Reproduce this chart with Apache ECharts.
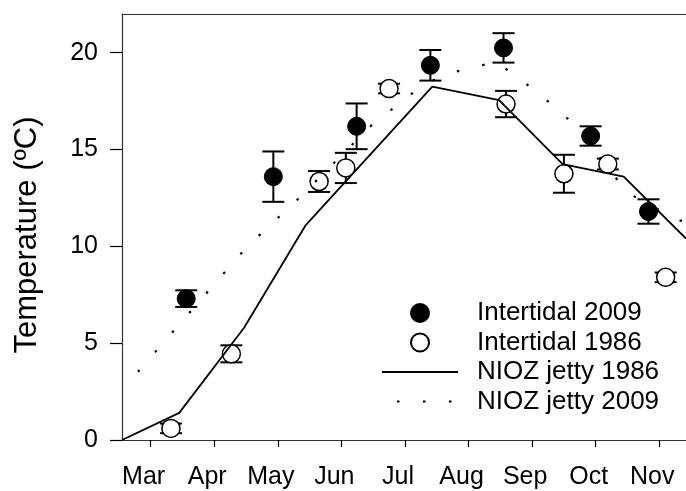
<!DOCTYPE html>
<html>
<head>
<meta charset="utf-8">
<script src="https://cdn.jsdelivr.net/npm/echarts@6/dist/echarts.min.js"></script>
<style>
  html, body { margin: 0; padding: 0; background: #fff; }
  #chart { width: 686px; height: 491px; }
</style>
</head>
<body>
<div id="chart"></div>
<script>
// x values are in months (3 = Mar tick, 4 = Apr tick ...)
const monthTicks = [3, 4, 5, 6, 7, 8, 9, 10, 11];
const monthLabels = ["Mar", "Apr", "May", "Jun", "Jul", "Aug", "Sep", "Oct", "Nov"];
const tempTicks = [0, 5, 10, 15, 20];

// Intertidal 2009 (filled circles)
const inter09X = [3.56, 4.93, 6.24, 7.40, 8.55, 9.92, 10.83];
const inter09Y = [7.3, 13.6, 16.2, 19.35, 20.25, 15.7, 11.8];
const inter09Err = [0.43, 1.3, 1.18, 0.79, 0.76, 0.5, 0.63];

// Intertidal 1986 (open circles)
const inter86X = [3.32, 4.27, 5.65, 6.07, 6.75, 8.59, 9.50, 10.19, 11.10];
const inter86Y = [0.6, 4.45, 13.35, 14.05, 18.15, 17.35, 13.75, 14.25, 8.4];
const inter86Err = [0.25, 0.44, 0.54, 0.78, 0.25, 0.68, 0.98, 0.28, 0.25];

// NIOZ jetty 1986 (solid line)
const jetty86X = [2.55, 3.45, 4.47, 5.44, 7.43, 8.48, 9.48, 10.44, 11.42];
const jetty86Y = [0, 1.4, 5.8, 11.1, 18.25, 17.55, 14.25, 13.6, 10.4];

// NIOZ jetty 2009 (dotted line)
const jetty09X = [2.80, 4.51, 5.31, 6.47, 6.86, 7.25, 7.64, 8.03, 8.43, 8.82, 9.21, 9.58, 10.51, 11.28, 11.42];
const jetty09Y = [3.52, 9.96, 12.42, 16.24, 17.25, 18.25, 18.9, 19.2, 19.53, 18.62, 17.6, 16.53, 12.75, 11.38, 11.25];

const FONT = "'Liberation Sans', Arial, sans-serif";

function pairs(xs, ys, es) {
  return xs.map((x, i) => (es ? [x, ys[i], es[i]] : [x, ys[i]]));
}

function errBar(params, api) {
  const x = api.value(0);
  const y = api.value(1);
  const e = api.value(2);
  const top = api.coord([x, y + e]);
  const bot = api.coord([x, y - e]);
  const hw = 11;
  const st = { stroke: "#000", lineWidth: 2 };
  return {
    type: "group",
    children: [
      { type: "line", shape: { x1: top[0], y1: top[1], x2: bot[0], y2: bot[1] }, style: st },
      { type: "line", shape: { x1: top[0] - hw, y1: top[1], x2: top[0] + hw, y2: top[1] }, style: st },
      { type: "line", shape: { x1: bot[0] - hw, y1: bot[1], x2: bot[0] + hw, y2: bot[1] }, style: st },
    ],
  };
}

const chart = echarts.init(document.getElementById("chart"));
const option = {
  animation: false,
  backgroundColor: "#fff",
  textStyle: { fontFamily: FONT },
  grid: { left: 122, right: 0, top: 14, bottom: 51, containLabel: false },
  legend: {
    orient: "vertical",
    left: 381,
    top: 300,
    padding: 0,
    itemWidth: 76,
    itemHeight: 18,
    itemGap: 3.5,
    textStyle: { fontSize: 26, color: "#000", fontFamily: FONT, padding: [0, 0, 0, 14] },
    data: [
      { name: "Intertidal 2009" },
      { name: "Intertidal 1986" },
      { name: "NIOZ jetty 1986", itemStyle: { opacity: 0 } },
      { name: "NIOZ jetty 2009", itemStyle: { opacity: 0 }, lineStyle: { dashOffset: 11 } },
    ],
  },
  xAxis: [
    {
      type: "value",
      min: 2.55,
      max: 11.42,
      position: "bottom",
      splitLine: { show: false },
      axisLine: { lineStyle: { color: "#333", width: 1.2 } },
      axisTick: { customValues: monthTicks, length: 7, lineStyle: { color: "#000", width: 1.2 } },
      axisLabel: {
        customValues: monthTicks,
        formatter: (v) => monthLabels[monthTicks.indexOf(Math.round(v))],
        fontSize: 25,
        color: "#000",
        margin: 25,
        padding: [0, 14, 0, 0],
        fontFamily: FONT,
      },
    },
    {
      type: "value",
      min: 2.55,
      max: 11.42,
      position: "top",
      splitLine: { show: false },
      axisLine: { lineStyle: { color: "#333", width: 1.2 } },
      axisTick: { show: false },
      axisLabel: { show: false },
    },
  ],
  yAxis: {
    type: "value",
    min: 0,
    max: 22,
    name: "Temperature (ºC)",
    nameLocation: "middle",
    nameGap: 79,
    nameTextStyle: { fontSize: 31, color: "#000", fontFamily: FONT, padding: [0, 16, 0, 0] },
    splitLine: { show: false },
    axisLine: { show: true, lineStyle: { color: "#333", width: 1.2 } },
    axisTick: { customValues: tempTicks, length: 12, lineStyle: { color: "#000", width: 1.2 } },
    axisLabel: { customValues: tempTicks, fontSize: 25, color: "#000", margin: 24, fontFamily: FONT },
  },
  series: [
    {
      type: "custom",
      renderItem: errBar,
      data: pairs(inter09X, inter09Y, inter09Err),
      encode: { x: 0, y: 1 },
      silent: true,
    },
    {
      type: "custom",
      renderItem: errBar,
      data: pairs(inter86X, inter86Y, inter86Err),
      encode: { x: 0, y: 1 },
      silent: true,
    },
    {
      name: "Intertidal 2009",
      type: "scatter",
      symbol: "circle",
      symbolSize: 18,
      itemStyle: { color: "#000", borderColor: "#000", borderWidth: 1, opacity: 1 },
      data: pairs(inter09X, inter09Y),
    },
    {
      name: "Intertidal 1986",
      type: "scatter",
      symbol: "circle",
      symbolSize: 18,
      itemStyle: { color: "#fff", borderColor: "#000", borderWidth: 1.5, opacity: 1 },
      data: pairs(inter86X, inter86Y),
    },
    {
      name: "NIOZ jetty 1986",
      type: "line",
      symbol: "none",
      showSymbol: false,
      color: "#000",
      lineStyle: { color: "#000", width: 1.8 },
      data: pairs(jetty86X, jetty86Y),
    },
    {
      name: "NIOZ jetty 2009",
      type: "line",
      symbol: "none",
      showSymbol: false,
      color: "#000",
      lineStyle: { color: "#000", width: 2.2, type: [2.5, 23.5] },
      data: pairs(jetty09X, jetty09Y),
    },
  ],
};
chart.setOption(option);
</script>
</body>
</html>
